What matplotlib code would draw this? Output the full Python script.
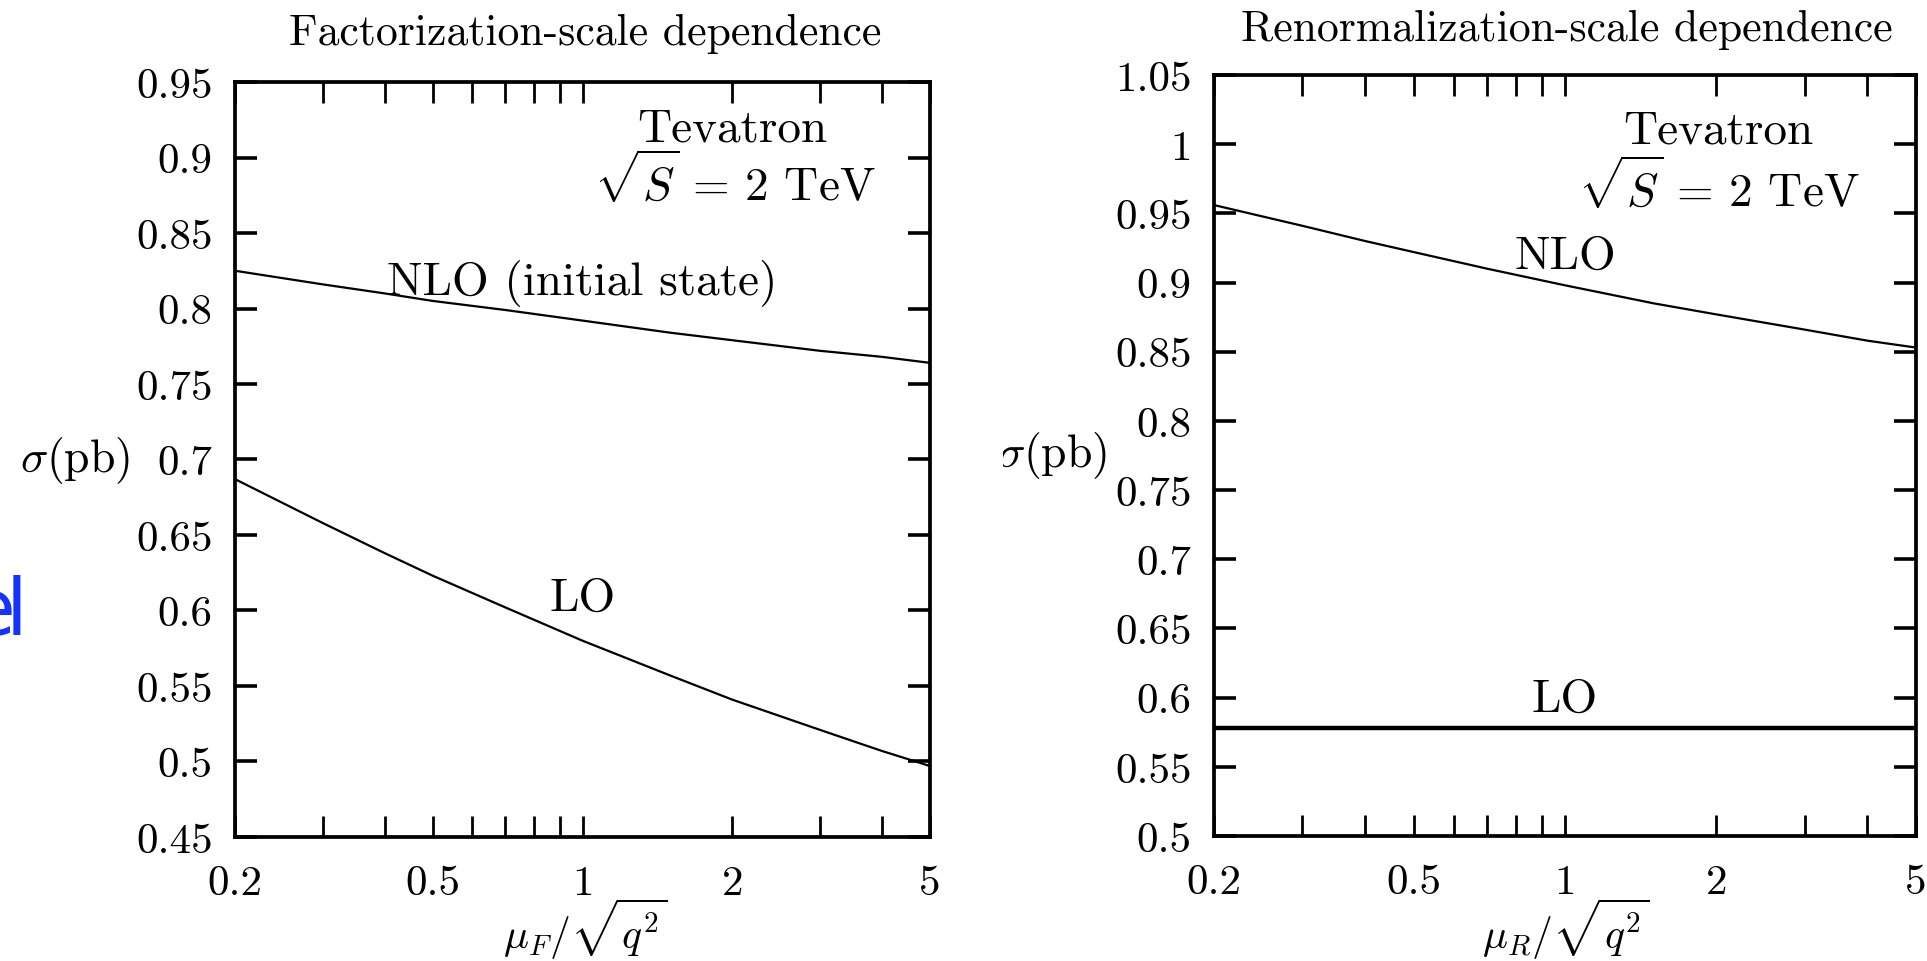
import matplotlib
matplotlib.use('Agg')
import matplotlib.pyplot as plt
from matplotlib.patches import Rectangle
from matplotlib.ticker import FixedLocator, NullLocator, FixedFormatter

plt.rcParams['font.family'] = 'cmr10'
plt.rcParams['mathtext.fontset'] = 'cm'
plt.rcParams['axes.formatter.use_mathtext'] = True

# Data
scale = [0.2, 0.3, 0.4, 0.5, 0.7, 1.0, 1.5, 2.0, 3.0, 4.0, 5.0]
fact_nlo = [0.825, 0.816, 0.810, 0.805, 0.799, 0.792, 0.784, 0.779, 0.772, 0.768, 0.764]
fact_lo = [0.687, 0.658, 0.638, 0.623, 0.602, 0.580, 0.557, 0.541, 0.521, 0.507, 0.497]
ren_nlo = [0.956, 0.941, 0.930, 0.922, 0.910, 0.898, 0.885, 0.877, 0.866, 0.858, 0.853]
ren_lo = [0.578] * len(scale)

xticks = [0.2, 0.5, 1, 2, 5]
xticklabels = ['0.2', '0.5', '1', '2', '5']
xminor = [0.3, 0.4, 0.6, 0.7, 0.8, 0.9, 3, 4]
fact_yticks = [0.45, 0.5, 0.55, 0.6, 0.65, 0.7, 0.75, 0.8, 0.85, 0.9, 0.95]
fact_ylabels = ['0.45', '0.5', '0.55', '0.6', '0.65', '0.7', '0.75', '0.8', '0.85', '0.9', '0.95']
ren_yticks = [0.5, 0.55, 0.6, 0.65, 0.7, 0.75, 0.8, 0.85, 0.9, 0.95, 1.0, 1.05]
ren_ylabels = ['0.5', '0.55', '0.6', '0.65', '0.7', '0.75', '0.8', '0.85', '0.9', '0.95', '1', '1.05']

fig = plt.figure(figsize=(19.27, 9.62), dpi=100)
ax1 = fig.add_axes([0.12195, 0.1289, 0.36067, 0.78482])
ax2 = fig.add_axes([0.6300, 0.12994, 0.36429, 0.79106])


def style(ax, yticks, ylabels, ylim):
    ax.set_xscale('log')
    ax.set_xlim(0.2, 5)
    ax.set_ylim(*ylim)
    ax.xaxis.set_major_locator(FixedLocator(xticks))
    ax.xaxis.set_major_formatter(FixedFormatter(xticklabels))
    ax.xaxis.set_minor_locator(FixedLocator(xminor))
    ax.yaxis.set_major_locator(FixedLocator(yticks))
    ax.yaxis.set_major_formatter(FixedFormatter(ylabels))
    ax.yaxis.set_minor_locator(NullLocator())
    ax.tick_params(axis='both', which='both', direction='in', top=True, right=True,
                   labelsize=31, width=2.0)
    ax.tick_params(axis='x', which='both', length=15, pad=20)
    ax.tick_params(axis='y', which='major', length=16, width=2.6, pad=16)
    for s in ax.spines.values():
        s.set_linewidth(2.7)


ax1.plot(scale, fact_nlo, color='black', lw=1.6)
ax1.plot(scale, fact_lo, color='black', lw=1.6)
style(ax1, fact_yticks, fact_ylabels, (0.45, 0.95))
ax1.text(2.0, 0.919, 'Tevatron', fontsize=34, ha='center', va='center')
ax1.text(2.02, 0.885, r'$\sqrt{S}\,=\,2$ TeV', fontsize=34, ha='center', va='center')
ax1.text(1.0, 0.8175, 'NLO (initial state)', fontsize=34, ha='center', va='center')
ax1.text(1.0, 0.608, 'LO', fontsize=34, ha='center', va='center')

ax2.plot(scale, ren_nlo, color='black', lw=1.6)
ax2.plot(scale, ren_lo, color='black', lw=3.2)
style(ax2, ren_yticks, ren_ylabels, (0.5, 1.05))
ax2.text(2.02, 1.010, 'Tevatron', fontsize=34, ha='center', va='center')
ax2.text(2.02, 0.970, r'$\sqrt{S}\,=\,2$ TeV', fontsize=34, ha='center', va='center')
ax2.text(1.0, 0.919, 'NLO', fontsize=34, ha='center', va='center')
ax2.text(1.0, 0.599, 'LO', fontsize=34, ha='center', va='center')

# axis labels and titles
fig.text(0.3036, 0.0, r'$\mu_F/\sqrt{q^2}$', fontsize=30, ha='center', va='bottom')
fig.text(0.8127, 0.0, r'$\mu_R/\sqrt{q^2}$', fontsize=30, ha='center', va='bottom')
fig.text(0.3036, 0.9647, 'Factorization-scale dependence', fontsize=31.5, ha='center', va='center')
fig.text(0.8132, 0.9688, 'Renormalization-scale dependence', fontsize=31.5, ha='center', va='center')
fig.text(0.0389, 0.521, r'$\sigma$(pb)', fontsize=33, ha='center', va='center')
fig.text(0.5745, 0.527, r'$\sigma$(pb)', fontsize=33, ha='right', va='center')
# the right panel's sigma is clipped on its left side in the original
fig.patches.append(Rectangle((0.500, 0.48), 0.0205, 0.09, transform=fig.transFigure,
                             facecolor='white', edgecolor='none', zorder=10))

# stray blue text cut at the left edge
fig.text(0.0083, 0.3399, 'e', fontsize=56, color='#1433ff', family='DejaVu Sans',
         ha='right', va='baseline')
fig.text(0.003, 0.3399, 'l', fontsize=56, color='#1433ff', family='DejaVu Sans',
         ha='left', va='baseline')

fig.savefig('out.png', dpi=100)
